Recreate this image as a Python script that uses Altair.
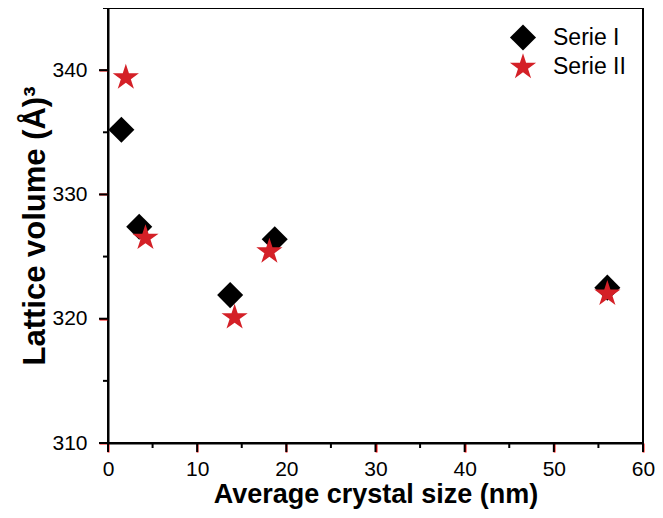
import altair as alt
import pandas as pd

series = ["Serie I"] * 5 + ["Serie II"] * 5
size_nm = [1.5, 3.5, 13.7, 18.7, 56.0,
           2.0, 4.2, 14.2, 18.1, 56.0]
volume = [335.2, 327.4, 321.9, 326.4, 322.5,
          339.4, 326.5, 320.1, 325.4, 322.0]

x_major = [0, 10, 20, 30, 40, 50, 60]
x_minor = [5, 15, 25, 35, 45, 55]
y_major = [310, 320, 330, 340]
y_minor = [315, 325, 335, 345]

df = pd.DataFrame({"series": series, "size": size_nm, "volume": volume})

STAR = ("M0,-1L0.2245,-0.309L0.951,-0.309L0.363,0.118L0.588,0.809L0,0.382"
        "L-0.588,0.809L-0.363,0.118L-0.951,-0.309L-0.2245,-0.309Z")

FONT = "Liberation Sans"
W, H = 535, 435
xs = alt.Scale(domain=[0, 60], nice=False, zero=False)
ys = alt.Scale(domain=[310, 345], nice=False, zero=False)

x_axis = alt.Axis(
    values=x_major, tickSize=9,
    grid=False, labelFontSize=21, labelFont=FONT, labelColor="black",
    labelPadding=6, labelFlush=False,
    tickColor="red", tickWidth=2,
    domainColor="black", domainWidth=2,
    title="Average crystal size (nm)", titleFont=FONT, titleFontSize=27,
    titleFontWeight="bold", titleColor="black", titlePadding=2,
)
y_axis = alt.Axis(
    values=y_major, tickSize=9,
    grid=False, labelFontSize=21, labelFont=FONT, labelColor="black",
    labelPadding=12, labelFlush=False,
    tickColor="red", tickWidth=2,
    domainColor="black", domainWidth=2,
    title="Lattice volume (Å)³", titleFont=FONT, titleFontSize=31,
    titleFontWeight="bold", titleColor="black", titlePadding=0,
)

legend = alt.Legend(
    title=None, orient="none", legendX=401, legendY=16,
    labelFont=FONT, labelFontSize=23, labelColor="black",
    symbolSize=680, labelOffset=16, rowPadding=2, padding=0,
    symbolStrokeWidth=0,
)

points = alt.Chart(df).mark_point(filled=True, opacity=1).encode(
    x=alt.X("size:Q", scale=xs, axis=x_axis),
    y=alt.Y("volume:Q", scale=ys, axis=y_axis),
    shape=alt.Shape("series:N", scale=alt.Scale(domain=["Serie I", "Serie II"], range=["diamond", STAR]), legend=legend),
    color=alt.Color("series:N", scale=alt.Scale(domain=["Serie I", "Serie II"], range=["#000000", "#d42027"]), legend=legend),
    size=alt.Size("series:N", scale=alt.Scale(domain=["Serie I", "Serie II"], range=[680, 760]), legend=None),
)

def xticks(vals, length):
    return alt.Chart(pd.DataFrame({"t": vals})).mark_rule(color="black", strokeWidth=2).encode(
        x=alt.X("t:Q", scale=xs, axis=x_axis),
        y=alt.value(H), y2=alt.value(H + length),
    )

def yticks(vals, length):
    return alt.Chart(pd.DataFrame({"t": vals})).mark_rule(color="black", strokeWidth=2).encode(
        y=alt.Y("t:Q", scale=ys, axis=y_axis),
        x=alt.value(0), x2=alt.value(-length),
    )

chart = alt.layer(
    points, xticks(x_major, 9), xticks(x_minor, 5), yticks(y_major, 9), yticks(y_minor, 5)
).properties(
    width=W, height=H,
    background="white",
    autosize=alt.AutoSizeParams(type="none"),
    padding={"left": 100, "top": 0, "right": 12, "bottom": 67},
).configure_view(
    stroke="black", strokeWidth=2
)

chart.save("out.html", embed_options={"renderer": "svg", "actions": False})
